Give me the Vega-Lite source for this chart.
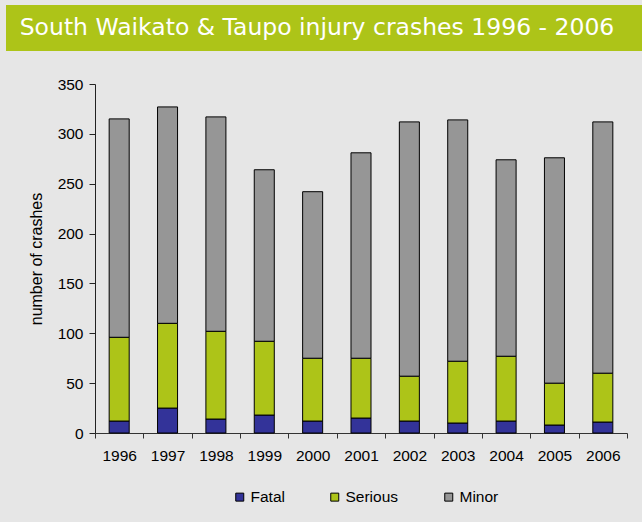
{
  "$schema": "https://vega.github.io/schema/vega-lite/v6.json",
  "background": "#e6e6e6",
  "padding": {"left": 6, "top": 5, "right": 0, "bottom": 17},
  "spacing": 26,
  "config": {"view": {"stroke": null}, "font": "Liberation Sans"},
  "vconcat": [
    {
      "width": 636,
      "height": 46,
      "view": {"fill": "#adc418", "stroke": null},
      "data": {"values": [{"heading": "South Waikato & Taupo injury crashes  1996 - 2006"}]},
      "mark": {"type": "text", "font": "DejaVu Sans", "fontSize": 23.5, "color": "white", "dx": -7, "align": "center", "baseline": "middle"},
      "encoding": {"text": {"field": "heading", "type": "nominal"}}
    },
    {
      "width": 621,
      "height": 349,
      "data": {
        "values": [
          {"year": "1996", "severity": "Fatal", "crashes": 12},
          {"year": "1996", "severity": "Serious", "crashes": 84},
          {"year": "1996", "severity": "Minor", "crashes": 219},
          {"year": "1997", "severity": "Fatal", "crashes": 25},
          {"year": "1997", "severity": "Serious", "crashes": 85},
          {"year": "1997", "severity": "Minor", "crashes": 217},
          {"year": "1998", "severity": "Fatal", "crashes": 14},
          {"year": "1998", "severity": "Serious", "crashes": 88},
          {"year": "1998", "severity": "Minor", "crashes": 215},
          {"year": "1999", "severity": "Fatal", "crashes": 18},
          {"year": "1999", "severity": "Serious", "crashes": 74},
          {"year": "1999", "severity": "Minor", "crashes": 172},
          {"year": "2000", "severity": "Fatal", "crashes": 12},
          {"year": "2000", "severity": "Serious", "crashes": 63},
          {"year": "2000", "severity": "Minor", "crashes": 167},
          {"year": "2001", "severity": "Fatal", "crashes": 15},
          {"year": "2001", "severity": "Serious", "crashes": 60},
          {"year": "2001", "severity": "Minor", "crashes": 206},
          {"year": "2002", "severity": "Fatal", "crashes": 12},
          {"year": "2002", "severity": "Serious", "crashes": 45},
          {"year": "2002", "severity": "Minor", "crashes": 255},
          {"year": "2003", "severity": "Fatal", "crashes": 10},
          {"year": "2003", "severity": "Serious", "crashes": 62},
          {"year": "2003", "severity": "Minor", "crashes": 242},
          {"year": "2004", "severity": "Fatal", "crashes": 12},
          {"year": "2004", "severity": "Serious", "crashes": 65},
          {"year": "2004", "severity": "Minor", "crashes": 197},
          {"year": "2005", "severity": "Fatal", "crashes": 8},
          {"year": "2005", "severity": "Serious", "crashes": 42},
          {"year": "2005", "severity": "Minor", "crashes": 226},
          {"year": "2006", "severity": "Fatal", "crashes": 11},
          {"year": "2006", "severity": "Serious", "crashes": 49},
          {"year": "2006", "severity": "Minor", "crashes": 252}
        ]
      },
      "transform": [
        {"calculate": "indexof(['Fatal', 'Serious', 'Minor'], datum.severity)", "as": "stackRank"}
      ],
      "mark": {"type": "bar", "stroke": "black", "strokeWidth": 1, "width": {"band": 0.414}},
      "encoding": {
        "x": {
          "field": "year",
          "type": "ordinal",
          "scale": {"range": [89, 621], "paddingInner": 0, "paddingOuter": 0},
          "axis": {
            "title": null,
            "labelAngle": 0,
            "tickBand": "extent",
            "tickSize": 5,
            "labelPadding": 10,
            "labelFontSize": 15.5,
            "labelColor": "black",
            "domainColor": "#333",
            "tickColor": "#333",
            "grid": false
          }
        },
        "y": {
          "field": "crashes",
          "type": "quantitative",
          "stack": "zero",
          "scale": {"domain": [0, 350], "nice": false},
          "axis": {
            "orient": "left",
            "offset": -89,
            "values": [0, 50, 100, 150, 200, 250, 300, 350],
            "grid": false,
            "tickSize": 6,
            "labelPadding": 6,
            "labelFontSize": 15.5,
            "labelColor": "black",
            "domainColor": "#222",
            "tickColor": "#222",
            "title": "number of crashes",
            "titleFontSize": 16,
            "titleFontWeight": "normal",
            "titleColor": "black",
            "titlePadding": 13
          }
        },
        "order": {"field": "stackRank", "type": "quantitative", "sort": "ascending"},
        "color": {
          "field": "severity",
          "type": "nominal",
          "scale": {"domain": ["Fatal", "Serious", "Minor"], "range": ["#333399", "#adc418", "#969696"]},
          "legend": {
            "orient": "none",
            "legendX": 226,
            "legendY": 484,
            "direction": "horizontal",
            "title": null,
            "symbolType": "square",
            "symbolSize": 64,
            "symbolStrokeColor": "black",
            "symbolStrokeWidth": 1,
            "labelFontSize": 15.5,
            "labelColor": "black",
            "labelOffset": 3,
            "columnPadding": 42,
            "padding": 0
          }
        }
      }
    }
  ]
}
